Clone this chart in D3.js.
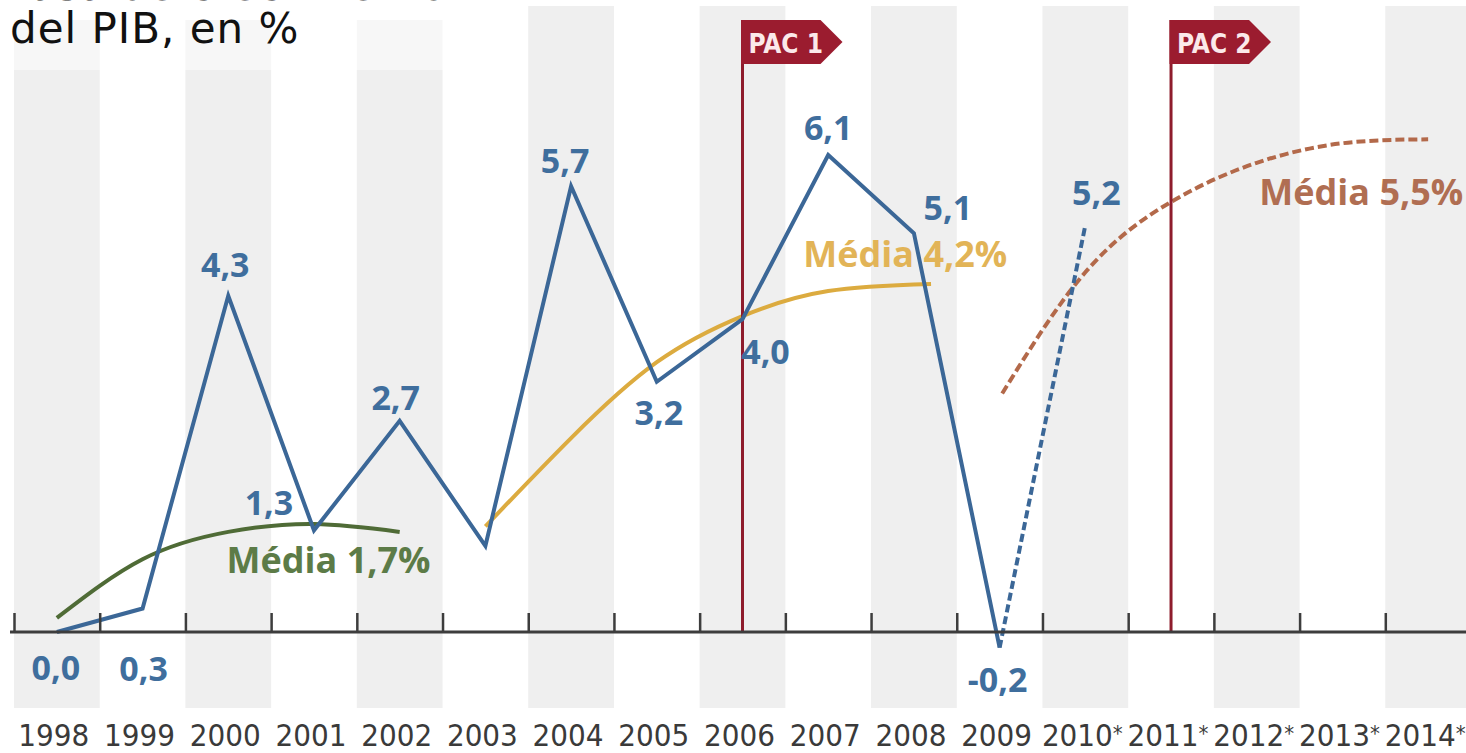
<!DOCTYPE html>
<html>
<head>
<meta charset="utf-8">
<script src="https://cdn.jsdelivr.net/npm/d3@7"></script>
<style>
  html, body { margin: 0; padding: 0; background: #fff; overflow: hidden; }
  svg { display: block; }
</style>
</head>
<body>
<div id="vis"></div>
<script>
// years on the axis
var years = [1998, 1999, 2000, 2001, 2002, 2003, 2004, 2005, 2006, 2007, 2008, 2009, 2010, 2011, 2012, 2013, 2014];
var yearLabels = ["1998", "1999", "2000", "2001", "2002", "2003", "2004", "2005", "2006", "2007", "2008", "2009",
                  "2010", "2011", "2012", "2013", "2014"];
var estimated = [2010, 2011, 2012, 2013, 2014];

// GDP growth, % (observed)
var gdpYears = [1998, 1999, 2000, 2001, 2002, 2003, 2004, 2005, 2006, 2007, 2008, 2009];
var gdpValues = [0.0, 0.3, 4.3, 1.3, 2.7, 1.1, 5.7, 3.2, 4.0, 6.1, 5.1, -0.2];
var gdpLabels = ["0,0", "0,3", "4,3", "1,3", "2,7", null, "5,7", "3,2", "4,0", "6,1", "5,1", "-0,2"];

// forecast segment (dashed)
var fcYears = [2009, 2010];
var fcValues = [-0.2, 5.2];
var fcLabels = [null, "5,2"];

// average arcs
var avg1 = [[1998, 0.18], [1999, 0.93], [2000, 1.28], [2001, 1.38], [2002, 1.28]];
var avg2 = [[2003, 1.35], [2004, 2.48], [2005, 3.45], [2006, 4.04], [2007, 4.36], [2008.2, 4.45]];
var avg3 = [[2009.03, 3.05], [2010, 4.6], [2011, 5.5], [2012, 6.0], [2013, 6.25], [2014, 6.3]];
var avgNames = ["Média 1,7%", "Média 4,2%", "Média 5,5%"];

// programme markers
var pacNames = ["PAC 1", "PAC 2"];
var pacYears = [2006, 2011];

var w = 1466;
var h = 753;

// label layout (pixel offsets from the point)
var gdpLabelOffset = [[-1, 48], [1, 72], [-3, -19], [-45, -15], [-4, -11], null, [-6, -13],
                      [2, 43], [23, 45], [0, -15], [34, -13], [-2, 44]];
var fcLabelOffset = [null, [11, -20]];
var avgLabelAt = [[2001.17, 0.75], [2007.9, 4.67], [2013.22, 5.46]];
var avgColors = ["#4f6b36", "#dcab3f", "#b3694a"];
var avgTextColors = ["#5c7b47", "#e2b457", "#b06e52"];

window.onload = function() {
  var svg = d3.select("#vis").append("svg")
    .attr("width", w)
    .attr("height", h);

  var x = d3.scaleLinear().domain([1997.5, 2014.5]).range([14, 1471]);
  var y = d3.scaleLinear().domain([0, 6]).range([632, 632 - 6 * 78.2]);

  // alternating grey columns
  svg.selectAll("rect.stripe")
    .data(years.filter(function(d, i) { return i % 2 === 0; }))
    .enter()
    .append("rect")
    .attr("class", "stripe")
    .attr("x", function(d) { return x(d - 0.5); })
    .attr("y", 6)
    .attr("width", function(d) { return x(d + 0.5) - x(d - 0.5); })
    .attr("height", 702)
    .attr("fill", "#efefef");

  // title box
  svg.append("rect").attr("x", 0).attr("y", 0).attr("width", 470).attr("height", 20).attr("fill", "#fff");
  svg.append("rect").attr("x", 0).attr("y", 20).attr("width", 470).attr("height", 50)
    .attr("fill", "#fff").attr("opacity", 0.5);
  var title = svg.append("text")
    .attr("font-family", "DejaVu Sans, Verdana, sans-serif")
    .attr("font-size", 42)
    .attr("letter-spacing", 1)
    .attr("fill", "#111");
  title.append("tspan").attr("x", 10).attr("y", 0).text("Tasa de crecimiento");
  title.append("tspan").attr("x", 10).attr("y", 43).text("del PIB, en %");

  // average arcs
  var arc = d3.line()
    .x(function(d) { return x(d[0]); })
    .y(function(d) { return y(d[1]); })
    .curve(d3.curveNatural);

  [avg1, avg2, avg3].forEach(function(a, i) {
    svg.append("path")
      .attr("d", arc(a))
      .attr("fill", "none")
      .attr("stroke", avgColors[i])
      .attr("stroke-width", 4)
      .attr("stroke-dasharray", i === 2 ? "9,4" : null);
  });

  svg.selectAll("text.avg")
    .data(avgNames)
    .enter()
    .append("text")
    .attr("class", "avg")
    .attr("x", function(d, i) { return x(avgLabelAt[i][0]); })
    .attr("y", function(d, i) { return y(avgLabelAt[i][1]); })
    .attr("text-anchor", "middle")
    .attr("font-family", "Open Sans, sans-serif")
    .attr("font-weight", "bold")
    .attr("font-size", 36)
    .attr("fill", function(d, i) { return avgTextColors[i]; })
    .text(function(d) { return d; });

  // PAC lines
  svg.selectAll("line.pac")
    .data(pacYears)
    .enter()
    .append("line")
    .attr("class", "pac")
    .attr("x1", function(d) { return x(d); })
    .attr("x2", function(d) { return x(d); })
    .attr("y1", 20)
    .attr("y2", y(0))
    .attr("stroke", "#8e1c2c")
    .attr("stroke-width", 3);

  // GDP line
  var line = d3.line()
    .x(function(d) { return x(d[0]); })
    .y(function(d) { return y(d[1]); });

  var gdp = d3.zip(gdpYears, gdpValues);
  var fc = d3.zip(fcYears, fcValues);

  svg.append("path")
    .attr("d", line(gdp))
    .attr("fill", "none")
    .attr("stroke", "#3b6797")
    .attr("stroke-width", 4)
    .attr("stroke-linejoin", "miter");

  svg.append("path")
    .attr("d", line(fc))
    .attr("fill", "none")
    .attr("stroke", "#3b6797")
    .attr("stroke-width", 4)
    .attr("stroke-dasharray", "8,4");

  // axis with boundary ticks
  var axis = d3.axisTop(x)
    .tickValues(d3.range(1997.5, 2015, 1))
    .tickSizeInner(19)
    .tickSizeOuter(0)
    .tickFormat("");

  var gAxis = svg.append("g")
    .attr("transform", "translate(0," + y(0) + ")")
    .call(axis);
  gAxis.select(".domain").attr("stroke", "#3d3d3d").attr("stroke-width", 3).attr("d", "M10,0H1466");
  gAxis.selectAll(".tick line").attr("stroke", "#3d3d3d").attr("stroke-width", 2.5);

  // year labels, estimates flagged with a small star
  var yl = svg.selectAll("text.year")
    .data(years)
    .enter()
    .append("text")
    .attr("class", "year")
    .attr("x", function(d) { return x(d) - 3; })
    .attr("y", 746)
    .attr("text-anchor", "middle")
    .attr("font-family", "Liberation Sans Narrow, DejaVu Sans Condensed, sans-serif")
    .attr("font-size", 31)
    .attr("fill", "#3a3a3a");
  yl.append("tspan").text(function(d, i) { return yearLabels[i]; });
  yl.filter(function(d) { return estimated.indexOf(d) >= 0; })
    .append("tspan")
    .attr("font-size", 22)
    .attr("dy", -5)
    .text("*");

  // value labels
  var valueLabels = [];
  gdp.forEach(function(d, i) {
    if (gdpLabels[i]) valueLabels.push({ p: d, t: gdpLabels[i], o: gdpLabelOffset[i] });
  });
  fc.forEach(function(d, i) {
    if (fcLabels[i]) valueLabels.push({ p: d, t: fcLabels[i], o: fcLabelOffset[i] });
  });

  svg.selectAll("text.val")
    .data(valueLabels)
    .enter()
    .append("text")
    .attr("class", "val")
    .attr("x", function(d) { return x(d.p[0]) + d.o[0]; })
    .attr("y", function(d) { return y(d.p[1]) + d.o[1]; })
    .attr("text-anchor", "middle")
    .attr("font-family", "Open Sans, sans-serif")
    .attr("font-weight", "bold")
    .attr("font-size", 34)
    .attr("fill", "#3f6e9d")
    .text(function(d) { return d.t; });

  // PAC flags
  var flag = svg.selectAll("g.flag")
    .data(pacYears)
    .enter()
    .append("g")
    .attr("class", "flag")
    .attr("transform", function(d) { return "translate(" + x(d) + ",0)"; });

  flag.append("path")
    .attr("d", "M-1.5,20H78L100,42L78,64H-1.5Z")
    .attr("fill", "#9b1c2f");

  flag.append("text")
    .attr("x", 6)
    .attr("y", 53)
    .attr("font-family", "Liberation Sans Narrow, DejaVu Sans Condensed, sans-serif")
    .attr("font-weight", "bold")
    .attr("font-size", 26)
    .attr("fill", "#fbe9ea")
    .text(function(d, i) { return pacNames[i]; });
}
</script>
</body>
</html>
